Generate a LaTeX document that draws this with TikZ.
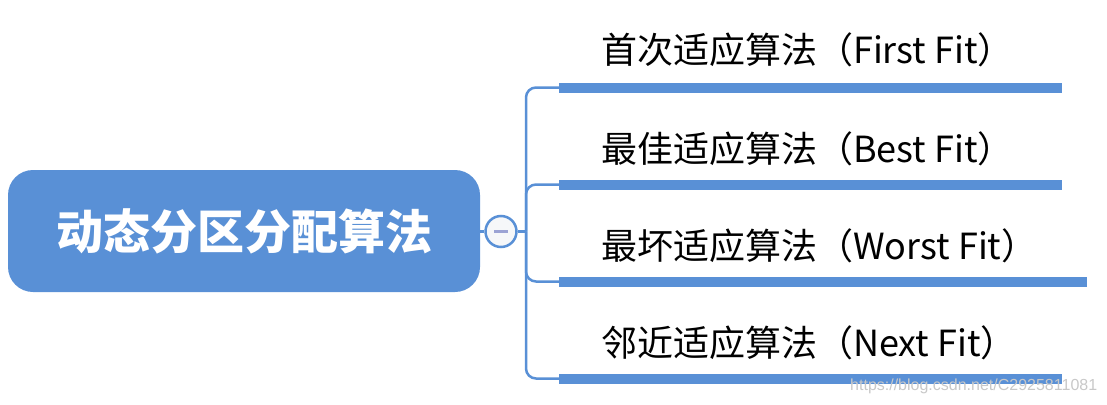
\documentclass[tikz,border=0pt]{standalone}
\usepackage{fontspec}
\newfontfamily\cjk{Noto Sans CJK SC}
\newfontfamily\wmfont{Liberation Sans}
\definecolor{mapblue}{HTML}{5990D6}
\definecolor{minusgray}{HTML}{9CA3D4}
\definecolor{knobfill}{HTML}{F6F7F9}
\definecolor{wmgray}{HTML}{C8C8C8}
\tikzset{
  rootbox/.style={draw=none, fill=mapblue, rounded corners=25pt, minimum width=472pt, minimum height=122pt, inner sep=0pt, text=white, font=\cjk\bfseries\fontsize{47}{51}\selectfont},
  knob/.style={circle, draw=mapblue, line width=2.5pt, fill=knobfill, minimum size=31pt, inner sep=0pt},
  leaf/.style={anchor=west, inner sep=0pt, text=black, font=\cjk\fontsize{36}{40}\selectfont},
  thinlink/.style={draw=mapblue, line width=2.5pt},
  branch/.style={draw=mapblue, line width=2.5pt, rounded corners=10pt},
  bar/.style={draw=mapblue, line width=10pt},
}
\begin{document}
\begin{tikzpicture}[x=1pt,y=-1pt]
\useasboundingbox (0,0) rectangle (1107,404);
\node[rootbox] (root) at (244,231) {动态分区分配算法};
\node[knob] (knob) at (501,231.5) {};
\draw[minusgray, line width=2.5pt] ([xshift=-7pt]knob.center) -- ([xshift=7pt]knob.center);
\coordinate (hub) at (526,231.5);
\draw[thinlink] (root.east |- knob) -- (knob.west);
\draw[thinlink] (knob.east) -- (hub);
% bar start and end coordinates
\coordinate (s1) at (559,87.5);  \coordinate (e1) at (1062,87.5);
\coordinate (s2) at (559,184.5); \coordinate (e2) at (1062,184.5);
\coordinate (s3) at (559,281.5); \coordinate (e3) at (1087,281.5);
\coordinate (s4) at (559,378.5); \coordinate (e4) at (1062,378.5);
\foreach \i in {1,2,3,4}{
  \draw[branch] (hub) |- ([xshift=1pt]s\i);
  \draw[bar] (s\i) -- (e\i);
}
\node[leaf] (l1) at (601,50) {首次适应算法（First Fit）};
\node[leaf] (l2) at (601,148.5) {最佳适应算法（Best Fit）};
\node[leaf] (l3) at (601,245.5) {最坏适应算法（Worst Fit）};
\node[leaf] (l4) at (601,342.5) {邻近适应算法（Next Fit）};
\node[anchor=west, inner sep=0pt, text=wmgray, font=\wmfont\fontsize{16}{18}\selectfont] (wm) at (850,386) {https://blog.csdn.net/C2925811081};
\end{tikzpicture}
\end{document}
